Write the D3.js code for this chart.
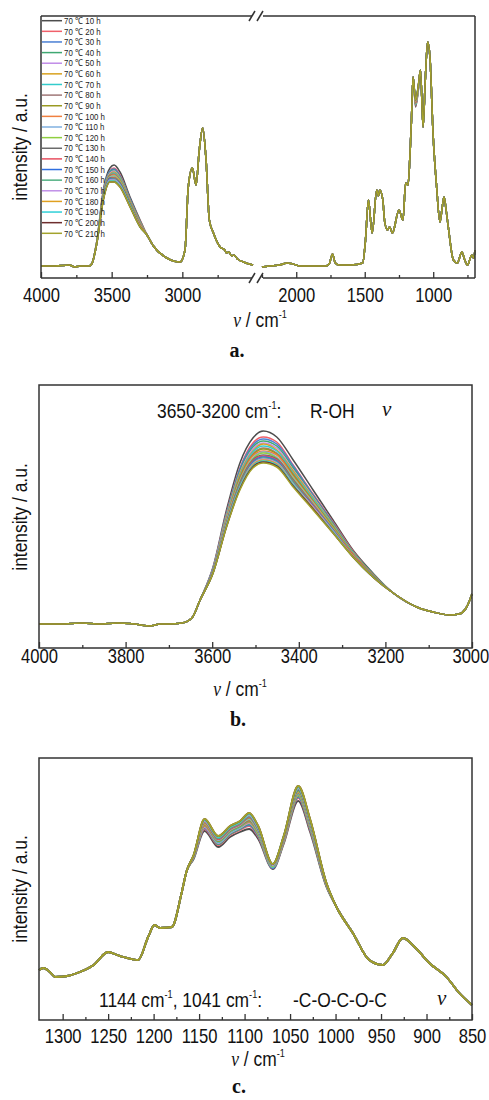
<!DOCTYPE html>
<html>
<head>
<meta charset="utf-8">
<script src="https://cdn.jsdelivr.net/npm/d3@7"></script>
<style>
  body { margin: 0; background: #fff; }
</style>
</head>
<body>
<div id="chart"></div>
<script>
// series (legend) and colours
const hours = ['10', '20', '30', '40', '50', '60', '70', '80', '90', '100', '110',
  '120', '130', '140', '150', '160', '170', '180', '190', '200', '210'];
const colors = ['#4d4d4d', '#f0606a', '#4a7fd4', '#3fa872', '#c08ce8', '#d9a21f', '#33cccc',
  '#a07878', '#9a9a22', '#f08040', '#80b0e0', '#90cf40', '#6b6b6b', '#e85060', '#2f6fe0',
  '#52b083', '#c090e8', '#e0a020', '#30d0d8', '#6e2e2e', '#a3a32c'];

// ---- panel a : full spectrum (wavenumber, intensity a.u.) ----
const aLeftHead = [[4000, 0], [3900, 0], [3800, 1], [3760, -1], [3724, 0], [3660, 0], [3641, 2]];
const aOHKeys = [3606, 3559, 3512, 3483, 3441, 3370, 3299];
const aOH = [
  [24, 76, 98, 101, 94, 69, 46], [24, 74, 95, 98, 91, 67, 45], [24, 74, 95, 97, 90, 67, 44],
  [23, 73, 94, 96, 89, 66, 44], [23, 72, 93, 95, 88, 65, 43], [23, 72, 92, 94, 88, 65, 43],
  [23, 71, 91, 93, 87, 64, 43], [23, 71, 91, 92, 86, 64, 42], [23, 70, 90, 91, 85, 63, 42],
  [23, 70, 89, 91, 85, 63, 42], [23, 69, 89, 90, 84, 62, 41], [23, 69, 88, 89, 84, 62, 41],
  [22, 69, 88, 88, 83, 62, 41], [22, 68, 87, 88, 82, 61, 41], [22, 68, 87, 87, 82, 61, 40],
  [22, 68, 86, 87, 81, 61, 40], [22, 67, 86, 86, 81, 60, 40], [22, 67, 85, 85, 80, 60, 40],
  [22, 67, 85, 85, 80, 60, 39], [22, 66, 84, 84, 79, 59, 39], [22, 66, 84, 84, 79, 59, 39]
];
const aLeftTail = [[3250, 31], [3205, 20], [3110, 8], [3016, 4], [2981, 16], [2958, 79], [2929, 98],
  [2903, 81], [2880, 116], [2856, 138], [2832, 106], [2809, 46], [2780, 33], [2733, 19], [2700, 16],
  [2686, 13], [2672, 14], [2650, 10], [2635, 11], [2610, 7], [2568, 4], [2500, 1]];
const aRightHead = [[2250, -1], [2200, 0], [2120, 1], [2066, 3], [2000, 1], [1980, 0], [1784, 0],
  [1760, 2], [1735, 12], [1715, 3], [1686, 1], [1600, 1], [1515, 3], [1495, 25], [1473, 66],
  [1446, 33], [1412, 76], [1400, 70], [1390, 76], [1368, 66], [1355, 45], [1335, 36], [1318, 39],
  [1298, 33], [1250, 56], [1221, 46], [1201, 83], [1184, 81], [1170, 110], [1159, 146], [1147, 189]];
const aCOKeys = [1129, 1110];
const aCO = [
  [159, 174], [160, 175], [161, 175], [161, 176], [162, 176], [162, 176], [162, 176],
  [163, 177], [163, 177], [163, 177], [164, 177], [164, 177], [164, 178], [164, 178],
  [165, 178], [165, 178], [165, 178], [165, 179], [166, 179], [166, 179], [166, 179]
];
const aRightTail = [[1093, 196], [1074, 139], [1058, 186], [1041, 224], [1024, 209], [1000, 129],
  [975, 79], [951, 44], [935, 58], [921, 69], [905, 55], [890, 39], [853, 6], [824, 3], [791, 14],
  [770, 6], [750, 1], [718, 11], [705, 8], [695, 16]];

// ---- panel b : 4000-3000 ----
const bHead = [[4000, 0], [3950, 0], [3900, 1], [3860, 0], [3820, 1], [3780, 0], [3744, -2],
  [3720, 0], [3700, 0], [3670, 1], [3647, 6], [3628, 24]];
const bKeys = [3598, 3567, 3536, 3506, 3482, 3451, 3413, 3367, 3321, 3275, 3229];
const bOH = [
  [57, 114, 161, 186, 193, 187, 164, 134, 104, 74, 51],
  [56, 111, 156, 181, 187, 182, 159, 130, 102, 73, 50],
  [56, 110, 155, 179, 185, 180, 158, 129, 101, 72, 50],
  [55, 109, 153, 177, 183, 178, 156, 128, 100, 72, 50],
  [55, 108, 151, 175, 181, 176, 154, 127, 99, 71, 49],
  [54, 107, 150, 173, 180, 174, 153, 126, 99, 71, 49],
  [54, 106, 148, 172, 178, 173, 151, 125, 98, 71, 49],
  [54, 105, 147, 170, 176, 171, 150, 123, 97, 70, 49],
  [54, 104, 146, 169, 175, 170, 149, 123, 97, 70, 49],
  [53, 104, 144, 168, 173, 169, 147, 122, 96, 70, 49],
  [53, 103, 143, 166, 172, 167, 146, 121, 95, 69, 48],
  [53, 102, 142, 165, 171, 166, 145, 120, 95, 69, 48],
  [53, 101, 141, 164, 169, 165, 144, 119, 94, 69, 48],
  [52, 101, 140, 163, 168, 164, 143, 119, 94, 69, 48],
  [52, 100, 139, 162, 167, 163, 142, 118, 94, 68, 48],
  [52, 100, 139, 161, 166, 162, 142, 117, 93, 68, 48],
  [52, 99, 137, 160, 165, 161, 140, 117, 93, 68, 47],
  [51, 98, 136, 159, 164, 160, 139, 116, 92, 68, 47],
  [51, 98, 136, 158, 163, 159, 139, 115, 92, 67, 47],
  [51, 97, 135, 157, 162, 158, 138, 115, 91, 67, 47],
  [51, 97, 134, 156, 161, 157, 137, 114, 91, 67, 47]
];
const bTail = [[3182, 31], [3128, 17], [3090, 12], [3051, 9], [3030, 10], [3015, 15], [3005, 24], [3000, 30]];

// ---- panel c : 1326-850 ----
const cHead = [[1326, 35], [1321, 37], [1314, 33], [1308, 28], [1295, 29], [1284, 32], [1266, 40],
  [1250, 53], [1240, 50], [1233, 48], [1217, 45], [1206, 68], [1199, 80], [1193, 77], [1180, 78],
  [1169, 113], [1164, 133]];
const cKeys = [1156, 1144, 1129, 1116, 1105, 1095, 1085, 1069, 1057, 1041, 1028, 1010];
const cCO = [
  [146, 174, 158, 168, 173, 176, 166, 136, 161, 204, 173, 118],
  [147, 176, 160, 170, 175, 179, 168, 137, 162, 207, 175, 119],
  [147, 177, 161, 171, 176, 180, 169, 137, 163, 208, 176, 119],
  [147, 178, 161, 171, 176, 181, 170, 138, 163, 209, 177, 119],
  [148, 178, 162, 172, 177, 182, 171, 138, 164, 210, 178, 120],
  [148, 179, 163, 173, 178, 183, 171, 138, 164, 210, 178, 120],
  [148, 180, 163, 173, 178, 184, 172, 138, 165, 211, 179, 120],
  [148, 180, 164, 174, 179, 184, 173, 139, 165, 212, 180, 120],
  [148, 181, 164, 174, 179, 185, 173, 139, 166, 213, 180, 120],
  [148, 181, 165, 175, 180, 186, 174, 139, 166, 213, 181, 120],
  [149, 182, 165, 175, 180, 186, 174, 139, 166, 214, 181, 121],
  [149, 182, 166, 176, 181, 187, 175, 139, 167, 214, 182, 121],
  [149, 183, 166, 176, 181, 188, 176, 140, 167, 215, 183, 121],
  [149, 183, 166, 176, 181, 188, 176, 140, 167, 216, 183, 121],
  [149, 184, 167, 177, 182, 189, 176, 140, 167, 216, 183, 121],
  [149, 184, 167, 177, 182, 189, 177, 140, 168, 216, 184, 121],
  [149, 184, 168, 178, 183, 190, 177, 140, 168, 217, 184, 121],
  [150, 185, 168, 178, 183, 191, 178, 141, 168, 218, 185, 122],
  [150, 185, 168, 178, 183, 191, 178, 141, 169, 218, 185, 122],
  [150, 186, 169, 179, 184, 192, 179, 141, 169, 219, 186, 122],
  [150, 186, 169, 179, 184, 192, 179, 141, 169, 219, 186, 122]
];
const cTail = [[999, 98], [981, 72], [963, 45], [948, 40], [937, 52], [926, 67], [913, 58],
  [897, 42], [878, 28], [864, 12], [850, 0]];

// tick values
const aTicksL = [4000, 3500, 3000], aMinorL = [3750, 3250, 2750];
const aTicksR = [2000, 1500, 1000], aMinorR = [2250, 1750, 1250, 750];
const bTicks = [4000, 3800, 3600, 3400, 3200, 3000], bMinor = [3900, 3700, 3500, 3300, 3100];
const cTicks = [1300, 1250, 1200, 1150, 1100, 1050, 1000, 950, 900, 850];
const cMinor = [1275, 1225, 1175, 1125, 1075, 1025, 975, 925, 875];

const SANS = "'Liberation Sans', Arial, sans-serif";
const SERIF = "'Liberation Serif', 'Times New Roman', serif";
const SQ = 0.83;   // the figure uses a narrow face, squeeze the regular one

const svg = d3.select('#chart').append('svg')
  .attr('width', 489)
  .attr('height', 1100)
  .attr('font-family', SANS);

const build = (head, keys, rows, tail, i) =>
  head.concat(keys.map((k, j) => [k, rows[i][j]]), tail);

const lineOf = (x, y) => d3.line()
  .x(d => x(d[0]))
  .y(d => y(d[1]))
  .curve(d3.curveMonotoneX);

// narrow text placed at (x, y)
function ntext(x, y, size, rot) {
  return svg.append('text')
    .attr('transform', 'translate(' + x + ',' + y + ')' + (rot ? ' rotate(' + rot + ')' : '') + ' scale(' + SQ + ',1)')
    .attr('font-size', size)
    .attr('fill', '#111');
}

function ticks(scale, values, minor, y0, pad) {
  let g = svg.append('g').attr('transform', 'translate(0,' + y0 + ')');
  g.append('g')
    .call(d3.axisBottom(scale).tickValues(values).tickSize(-6).tickPadding(pad).tickFormat(d3.format('d')))
    .call(a => a.select('.domain').remove())
    .attr('font-size', 20)
    .attr('font-family', null);
  g.append('g')
    .call(d3.axisBottom(scale).tickValues(minor).tickSize(-3).tickFormat(''))
    .call(a => a.select('.domain').remove());
  g.selectAll('line').attr('stroke', '#333').attr('stroke-width', 1.3);
  g.selectAll('.tick text').attr('fill', '#111').attr('transform', 'scale(' + SQ + ',1)');
  return g;
}

function yLabel(cy) {
  ntext(27, cy, 21, -90)
    .attr('text-anchor', 'middle')
    .text('intensity / a.u.');
}

function xLabel(cx, by) {
  let t = ntext(cx, by, 21).attr('text-anchor', 'middle');
  t.append('tspan').attr('font-family', SERIF).attr('font-style', 'italic').text('ν');
  t.append('tspan').text(' / cm');
  t.append('tspan').attr('font-size', 11).attr('dy', -9).text('-1');
}

function panelTag(cx, by, s) {
  svg.append('text')
    .attr('x', cx).attr('y', by)
    .attr('text-anchor', 'middle')
    .attr('font-family', SERIF)
    .attr('font-weight', 'bold')
    .attr('font-size', 20)
    .attr('fill', '#111')
    .text(s);
}

function frameLine(x1, y1, x2, y2) {
  svg.append('line')
    .attr('x1', x1).attr('y1', y1).attr('x2', x2).attr('y2', y2)
    .attr('stroke', '#333').attr('stroke-width', 1.5);
}

// ================= panel a =================
const xaL = d3.scaleLinear().domain([4000, 2500]).range([41, 253]);
const xaR = d3.scaleLinear().domain([2250, 695]).range([262, 475]);
const ya = d3.scaleLinear().domain([-12, 250]).range([278, 16]);

const ga = svg.append('g');
hours.forEach((h, i) => {
  ga.append('path')
    .attr('d', lineOf(xaL, ya)(build(aLeftHead, aOHKeys, aOH, aLeftTail, i)))
    .attr('fill', 'none').attr('stroke', colors[i]).attr('stroke-width', 1.5);
  ga.append('path')
    .attr('d', lineOf(xaR, ya)(build(aRightHead, aCOKeys, aCO, aRightTail, i)))
    .attr('fill', 'none').attr('stroke', colors[i]).attr('stroke-width', 1.5);
});

// broken frame
frameLine(41, 16, 41, 278);
frameLine(475, 16, 475, 278);
frameLine(41, 16, 252, 16);
frameLine(263, 16, 475, 16);
frameLine(41, 278, 252, 278);
frameLine(263, 278, 475, 278);
[16, 278].forEach(yy => {
  [252, 260].forEach(xx => frameLine(xx - 3, yy + 5, xx + 3, yy - 5));
});

ticks(xaL, aTicksL, aMinorL, 278, 10);
ticks(xaR, aTicksR, aMinorR, 278, 10);
yLabel(147);
xLabel(260, 327);
panelTag(237, 357, 'a.');

// legend
let legend = svg.append('g').attr('transform', 'translate(42, 20.7)');
hours.forEach((h, i) => {
  let row = legend.append('g').attr('transform', 'translate(0,' + (i * 10.63) + ')');
  row.append('line')
    .attr('x1', 0).attr('x2', 20)
    .attr('stroke', colors[i]).attr('stroke-width', 1.5);
  row.append('text')
    .attr('transform', 'translate(22,3.2) scale(' + SQ + ',1)')
    .attr('font-size', 9.5)
    .attr('fill', '#222')
    .text('70 ℃ ' + h + ' h');
});

// ================= panel b =================
const xb = d3.scaleLinear().domain([4000, 3000]).range([39, 472]);
const yb = d3.scaleLinear().domain([-24, 239]).range([648, 385]);

const gb = svg.append('g');
hours.forEach((h, i) => {
  gb.append('path')
    .attr('d', lineOf(xb, yb)(build(bHead, bKeys, bOH, bTail, i)))
    .attr('fill', 'none').attr('stroke', colors[i]).attr('stroke-width', 1.5);
});
svg.append('rect')
  .attr('x', 39).attr('y', 385).attr('width', 433).attr('height', 263)
  .attr('fill', 'none').attr('stroke', '#333').attr('stroke-width', 1.5);
let bAxis = ticks(xb, bTicks, bMinor, 648, 1);
bAxis.selectAll('.tick text').filter(d => d === 3000).attr('dx', -2);
yLabel(517);
xLabel(240, 696);
panelTag(238, 726, 'b.');

let tb = ntext(157, 418, 21);
tb.append('tspan').text('3650-3200 cm');
tb.append('tspan').attr('font-size', 11).attr('dy', -9).text('-1');
tb.append('tspan').attr('dy', 9).text(':');
ntext(310, 418, 21).text('R-OH');
svg.append('text').attr('x', 382).attr('y', 416).attr('font-size', 21).attr('fill', '#111')
  .attr('font-family', SERIF).attr('font-style', 'italic').text('ν');

// ================= panel c =================
const xc = d3.scaleLinear().domain([1326, 850]).range([39, 472]);
const yc = d3.scaleLinear().domain([-15, 247]).range([1020, 758]);

const gc = svg.append('g');
hours.forEach((h, i) => {
  gc.append('path')
    .attr('d', lineOf(xc, yc)(build(cHead, cKeys, cCO, cTail, i)))
    .attr('fill', 'none').attr('stroke', colors[i]).attr('stroke-width', 1.8);
});
svg.append('rect')
  .attr('x', 39).attr('y', 758).attr('width', 433).attr('height', 262)
  .attr('fill', 'none').attr('stroke', '#333').attr('stroke-width', 1.5);
ticks(xc, cTicks, cMinor, 1020, 9);
yLabel(889);
xLabel(258, 1066);
panelTag(239, 1093, 'c.');

let tc = ntext(99, 1007, 21);
tc.append('tspan').text('1144 cm');
tc.append('tspan').attr('font-size', 11).attr('dy', -9).text('-1');
tc.append('tspan').attr('dy', 9).text(', 1041 cm');
tc.append('tspan').attr('font-size', 11).attr('dy', -9).text('-1');
tc.append('tspan').attr('dy', 9).text(':');
ntext(293, 1007, 21).text('-C-O-C-O-C');
svg.append('text').attr('x', 437).attr('y', 1005).attr('font-size', 21).attr('fill', '#111')
  .attr('font-family', SERIF).attr('font-style', 'italic').text('ν');
</script>
</body>
</html>
